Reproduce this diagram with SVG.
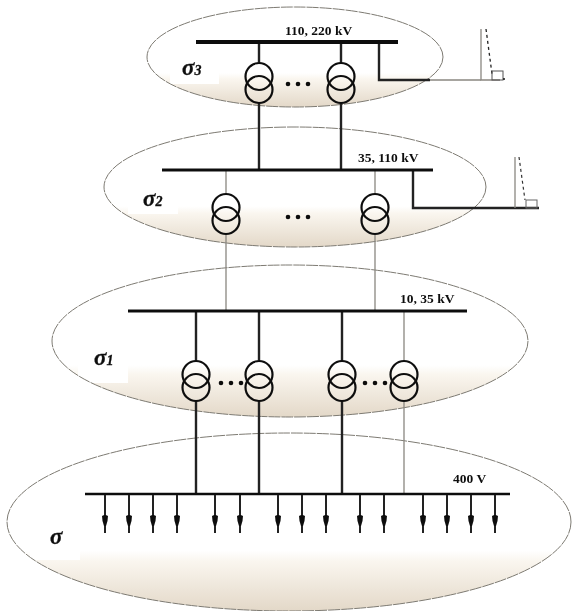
<svg xmlns="http://www.w3.org/2000/svg" width="579" height="611" viewBox="0 0 579 611">
<style>
.zone{fill:url(#fade);stroke:none}
.edge{fill:none;stroke:#7d7a72;stroke-width:1;stroke-dasharray:12 1}
.patch{fill:#fff}
.bus{stroke:#111;fill:none}
.w{stroke:#222;stroke-width:2.4;fill:none}
.t{stroke:#8a8780;stroke-width:1.3;fill:none}
.coil{fill:none;stroke:#111;stroke-width:2.2}
.dot{fill:#111}
.lbl{font-family:"Liberation Serif",serif;font-weight:bold;font-size:13.5px;fill:#111}
.sig{font-family:"Liberation Serif",serif;font-weight:bold;font-style:italic;font-size:23px;fill:#111;stroke:#111;stroke-width:.3}
.sig tspan{font-size:14px}
.soft{filter:url(#b)}
</style>
<defs>
<linearGradient id="fade" x1="0" y1="0" x2="0" y2="1">
<stop offset="0" stop-color="#fff"/><stop offset=".66" stop-color="#fff"/><stop offset=".72" stop-color="#faf6ef"/><stop offset="1" stop-color="#e3d8c8"/>
</linearGradient>
<filter id="b" x="-5%" y="-5%" width="110%" height="110%"><feGaussianBlur stdDeviation="0.4"/></filter>
<g id="tx"><circle class="coil" cx="0" cy="-6.5" r="13.5"/><circle class="coil" cx="0" cy="6.5" r="13.5"/></g>
<g id="load"><path d="M0 0V38" class="w" style="stroke-width:2"/><path d="M-3 21Q0 19 3 21Q3 26 1 31H-1Q-3 26-3 21Z" fill="#111"/></g>
<g id="ell"><circle class="dot" cx="-10" r="2.3"/><circle class="dot" cx="0" r="2.3"/><circle class="dot" cx="10" r="2.3"/></g>
</defs>
<g class="soft">
<g id="zone-s">
<ellipse class="zone" cx="289" cy="522" rx="282" ry="89"/>
<rect class="patch" x="30" y="500" width="50" height="60"/>
<ellipse class="edge" cx="289" cy="522" rx="282" ry="89"/>
<text class="sig" x="50" y="544">σ</text>
</g>
<g id="zone-s1">
<ellipse class="zone" cx="290" cy="341" rx="238" ry="76"/>
<rect class="patch" x="78" y="340" width="50" height="43"/>
<ellipse class="edge" cx="290" cy="341" rx="238" ry="76"/>
<text class="sig" x="94" y="365">σ<tspan>1</tspan></text>
</g>
<g id="zone-s2">
<ellipse class="zone" cx="295" cy="187" rx="191" ry="60"/>
<rect class="patch" x="128" y="190" width="50" height="24"/>
<ellipse class="edge" cx="295" cy="187" rx="191" ry="60"/>
<text class="sig" x="143" y="206">σ<tspan>2</tspan></text>
</g>
<g id="zone-s3">
<ellipse class="zone" cx="295" cy="57" rx="148" ry="50"/>
<rect class="patch" x="170" y="60" width="49" height="24"/>
<ellipse class="edge" cx="295" cy="57" rx="148" ry="50"/>
<text class="sig" x="182" y="75">σ<tspan>3</tspan></text>
</g>
<g id="connectors">
<path class="w" d="M259 42V63M341 42V63M259 102V170M341 102V170"/>
<path class="w" d="M379 42V80H430"/>
<path class="t" d="M430 80H481"/>
<path class="w" d="M413 170V208H539"/>
<path class="t" d="M226 170V195M226 234V311M375 170V195M375 234V311"/>
<path class="w" d="M196 311V361M259 311V361M342 311V361M196 400V494M259 400V494M342 400V494"/>
<path class="t" d="M404 311V361M404 400V494"/>
</g>
<g id="bus-110-220"><path class="bus" stroke-width="4" d="M196 42H398"/><text class="lbl" x="285" y="35">110, 220 kV</text></g>
<g id="bus-35-110"><path class="bus" stroke-width="3.2" d="M162 170H433"/><text class="lbl" x="358" y="162">35, 110 kV</text></g>
<g id="bus-10-35"><path class="bus" stroke-width="3" d="M128 311H467"/><text class="lbl" x="400" y="303">10, 35 kV</text></g>
<g id="bus-400"><path class="bus" stroke-width="2.6" d="M85 494H510"/><text class="lbl" x="453" y="483">400 V</text></g>
<g id="tower-1">
<path class="t" d="M481 29V80H500"/>
<path d="M486 29L492 74" fill="none" stroke="#222" stroke-width="1.3" stroke-dasharray="3 3"/>
<rect x="492" y="71" width="11" height="9" fill="none" stroke="#555"/>
<circle class="dot" cx="504" cy="79" r="1"/>
</g>
<g id="tower-2">
<path class="t" d="M515 157V208"/>
<path d="M519 157L525 200" fill="none" stroke="#333" stroke-width="1.2" stroke-dasharray="3 3"/>
<rect x="526" y="200" width="11" height="8" fill="none" stroke="#666"/>
</g>
<g id="transformers">
<use href="#tx" x="259" y="83"/><use href="#tx" x="341" y="83"/>
<use href="#tx" x="226" y="214"/><use href="#tx" x="375" y="214"/>
<use href="#tx" x="196" y="381"/><use href="#tx" x="259" y="381"/><use href="#tx" x="342" y="381"/><use href="#tx" x="404" y="381"/>
</g>
<g id="ellipses">
<use href="#ell" x="298" y="84"/><use href="#ell" x="298" y="217"/><use href="#ell" x="231" y="383"/><use href="#ell" x="375" y="383"/>
</g>
<g id="loads">
<use href="#load" x="105" y="495"/><use href="#load" x="129" y="495"/><use href="#load" x="153" y="495"/><use href="#load" x="177" y="495"/>
<use href="#load" x="215" y="495"/><use href="#load" x="240" y="495"/><use href="#load" x="278" y="495"/><use href="#load" x="302" y="495"/>
<use href="#load" x="326" y="495"/><use href="#load" x="360" y="495"/><use href="#load" x="384" y="495"/><use href="#load" x="423" y="495"/>
<use href="#load" x="447" y="495"/><use href="#load" x="471" y="495"/><use href="#load" x="495" y="495"/>
</g>
</g>
</svg>
